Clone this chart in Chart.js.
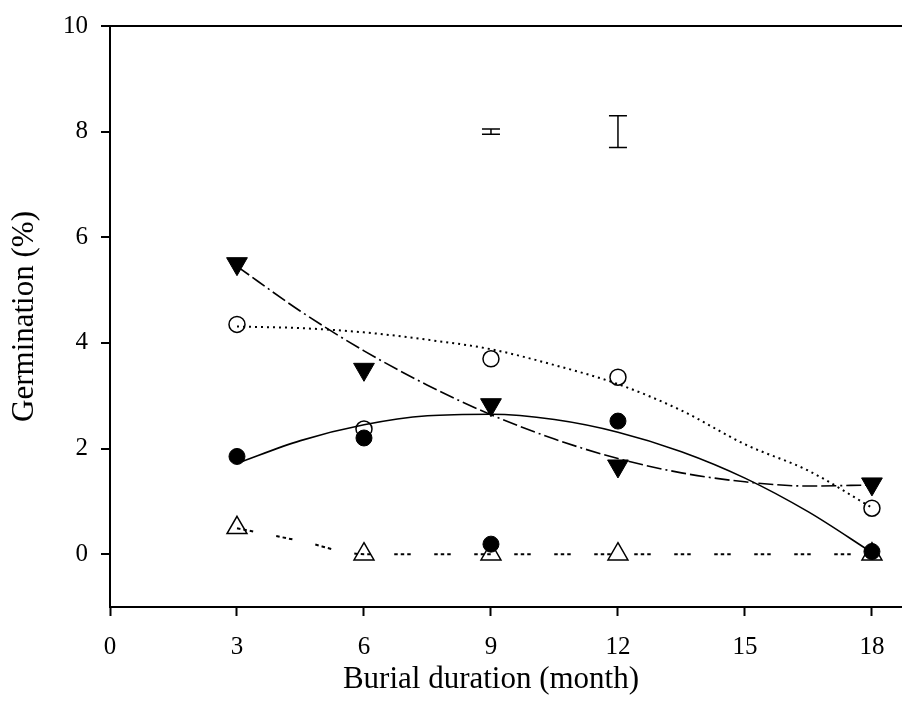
<!DOCTYPE html>
<html>
<head>
<meta charset="utf-8">
<script src="https://cdn.jsdelivr.net/npm/chart.js@4.4.1/dist/chart.umd.min.js"></script>
<style>
  html, body { margin: 0; padding: 0; background: #fff; overflow: hidden; }
  #wrap { width: 902px; height: 709px; }
</style>
</head>
<body>
<div id="wrap"><canvas id="c" width="902" height="709"></canvas></div>
<script>
// Observed germination (%) after each burial duration
const months = [3, 6, 9, 12, 18];
const closedCircle = [1.85, 2.2, 0.19, 2.52, 0.05];
const openCircle = [4.35, 2.37, 3.70, 3.35, 0.87];
const closedTriangle = [5.5, 3.5, 2.83, 1.67, 1.33];
const openTriangle = [0.5, 0, 0, 0, 0];

// Regression curves, read at regular burial durations
const fitX = [3, 4.5, 6, 7.5, 9, 10.5, 12, 13.5, 15, 16.5, 18];
const fitClosedCircle = [1.72, 2.15, 2.45, 2.62, 2.65, 2.55, 2.31, 1.94, 1.44, 0.80, 0.03];
const fitOpenCircle = [4.31, 4.28, 4.20, 4.06, 3.88, 3.58, 3.22, 2.72, 2.08, 1.58, 0.88];
const fitClosedTriangle = [5.45, 4.60, 3.85, 3.20, 2.64, 2.18, 1.81, 1.54, 1.37, 1.29, 1.31];
const fitOpenTriangle = [0.49, 0.25, 0, 0, 0, 0, 0, 0, 0, 0, 0];

// LSD bars shown above the data
const errX = [9, 12];
const errMean = [8, 8];
const errHalf = [0.05, 0.3];

const xTicks = [0, 3, 6, 9, 12, 15, 18];
const yTicks = [0, 2, 4, 6, 8, 10];

const FONT = "'Liberation Serif', 'Times New Roman', serif";

const pts = (xs, ys) => xs.map((x, i) => ({ x, y: ys[i] }));

const markerDataset = (ys, style) => Object.assign({
  type: 'scatter',
  data: pts(months, ys),
  showLine: false,
  borderColor: '#000',
  hoverRadius: 0
}, style);

const curveDataset = (ys, style) => Object.assign({
  type: 'line',
  data: pts(fitX, ys),
  borderColor: '#000',
  pointRadius: 0,
  pointHoverRadius: 0,
  fill: false,
  cubicInterpolationMode: 'monotone'
}, style);

const errorBars = {
  id: 'errorBars',
  afterDatasetsDraw(chart) {
    const { ctx, scales: { x, y } } = chart;
    ctx.save();
    ctx.strokeStyle = '#000';
    ctx.lineWidth = 1.5;
    errX.forEach((v, i) => {
      const px = x.getPixelForValue(v);
      const top = y.getPixelForValue(errMean[i] + errHalf[i]);
      const bot = y.getPixelForValue(errMean[i] - errHalf[i]);
      const cap = 9;
      ctx.beginPath();
      ctx.moveTo(px, top); ctx.lineTo(px, bot);
      ctx.moveTo(px - cap, top); ctx.lineTo(px + cap, top);
      ctx.moveTo(px - cap, bot); ctx.lineTo(px + cap, bot);
      ctx.stroke();
    });
    ctx.restore();
  }
};

const axisTitles = {
  id: 'axisTitles',
  afterDraw(chart) {
    const { ctx, scales: { x }, chartArea } = chart;
    ctx.save();
    ctx.fillStyle = '#000';
    ctx.font = '31px ' + FONT;
    ctx.textAlign = 'center';
    ctx.textBaseline = 'alphabetic';
    const cx = (x.getPixelForValue(xTicks[0]) + x.getPixelForValue(xTicks[xTicks.length - 1])) / 2;
    ctx.fillText('Burial duration (month)', cx, 688);
    ctx.textBaseline = 'middle';
    ctx.translate(25, (chartArea.top + chartArea.bottom) / 2);
    ctx.rotate(-Math.PI / 2);
    ctx.fillText('Germination (%)', 0, 0);
    ctx.restore();
  }
};

new Chart(document.getElementById('c'), {
  type: 'scatter',
  data: {
    datasets: [
      markerDataset(closedCircle, { pointStyle: 'circle', pointRadius: 8, backgroundColor: '#000', borderWidth: 1, order: 0 }),
      markerDataset(closedTriangle, { pointStyle: 'triangle', rotation: 180, pointRadius: 12, backgroundColor: '#000', borderWidth: 1, order: 1 }),
      markerDataset(openCircle, { pointStyle: 'circle', pointRadius: 8, backgroundColor: 'rgba(0,0,0,0)', borderWidth: 1.5, order: 2 }),
      markerDataset(openTriangle, { pointStyle: 'triangle', pointRadius: 11.5, backgroundColor: 'rgba(0,0,0,0)', borderWidth: 1.5, order: 3 }),
      curveDataset(fitClosedCircle, { borderWidth: 1.6, order: 4 }),
      curveDataset(fitClosedTriangle, { borderWidth: 1.6, borderDash: [15, 4, 15, 4, 2, 4], order: 5 }),
      curveDataset(fitOpenCircle, { borderWidth: 2, borderDash: [2, 4], order: 6 }),
      curveDataset(fitOpenTriangle, { borderWidth: 2, borderDash: [3.5, 3, 3.5, 3, 3.5, 23.5], order: 7 })
    ]
  },
  options: {
    responsive: false,
    devicePixelRatio: 1,
    animation: false,
    events: [],
    layout: { autoPadding: false, padding: { top: 26, right: 0, left: 0, bottom: 0 } },
    plugins: { legend: { display: false }, tooltip: { enabled: false }, title: { display: false } },
    scales: {
      x: {
        type: 'linear',
        min: 0,
        max: 18.71,
        afterBuildTicks: s => { s.ticks = xTicks.map(v => ({ value: v })); },
        afterFit: s => { s.height = 102; s.paddingLeft = 0; s.paddingRight = 0; },
        border: { color: '#000', width: 2 },
        grid: { drawOnChartArea: false, tickLength: 9, tickWidth: 2, tickColor: '#000' },
        ticks: { color: '#000', font: { family: FONT, size: 25 }, padding: 16, maxRotation: 0 }
      },
      y: {
        type: 'linear',
        min: -1,
        max: 10,
        afterBuildTicks: s => { s.ticks = yTicks.map(v => ({ value: v })); },
        afterFit: s => { s.width = 110; s.paddingTop = 0; s.paddingBottom = 0; },
        border: { color: '#000', width: 2 },
        grid: {
          color: ctx => (ctx.tick && ctx.tick.value === 10 ? '#000' : 'rgba(0,0,0,0)'),
          lineWidth: 2,
          tickLength: 9,
          tickWidth: 2,
          tickColor: '#000'
        },
        ticks: { color: '#000', font: { family: FONT, size: 25 }, padding: 13 }
      }
    }
  },
  plugins: [errorBars, axisTitles]
});
</script>
</body>
</html>
